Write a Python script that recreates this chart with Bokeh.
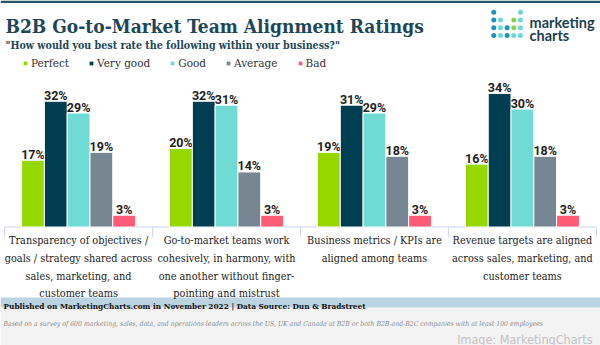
from bokeh.plotting import figure
from bokeh.models import ColumnDataSource, FactorRange, Range1d, Legend, LegendItem
from bokeh.core.properties import value
from bokeh.embed import file_html
from bokeh.resources import INLINE

# ---------------- data ----------------
categories = [
    "Transparency of objectives /\ngoals / strategy shared across\nsales, marketing, and\ncustomer teams",
    "Go-to-market teams work\ncohesively, in harmony, with\none another without finger-\npointing and mistrust",
    "Business metrics / KPIs are\naligned among teams",
    "Revenue targets are aligned\nacross sales, marketing, and\ncustomer teams",
]
series = ["Perfect", "Very good", "Good", "Average", "Bad"]
perfect = [17, 20, 19, 16]
very_good = [32, 32, 31, 34]
good = [29, 31, 29, 30]
average = [19, 14, 18, 18]
bad = [3, 3, 3, 3]
values_by_series = [perfect, very_good, good, average, bad]
colors = ["#97d700", "#003e51", "#6fdbd4", "#768692", "#ff5a76"]

title_text = "B2B Go-to-Market Team Alignment Ratings"
subtitle_text = '"How would you best rate the following within your business?"'
source_text = "Published on MarketingCharts.com in November 2022 | Data Source: Dun & Bradstreet"
note_text = ("Based on a survey of 600 marketing, sales, data, and operations leaders across the US, UK and "
             "Canada at B2B or both B2B-and-B2C companies with at least 100 employees")
credit_text = "Image: MarketingCharts"

# ---------------- layout constants ----------------
W, H = 600, 345
BASE_PX = 226.5      # baseline position from top (px)
PX_PER = 3.93        # px per percentage point
GP = 1.49            # gap between groups (bar units)
PAD = 0.925          # outer padding per side (bar units)

SERIF_NAME = "DejaVu Serif"
SERIF = value(SERIF_NAME)
SERIF_C = value("DejaVu Serif Condensed, DejaVu Serif")
SANS = value("Roboto")

n = len(categories)
k = len(series)
SYN_START = -PAD
SYN_SPAN = n * k + (n - 1) * GP + 2 * PAD


def X(px):
    """canvas px -> synthetic coordinate of the categorical x range"""
    if isinstance(px, list):
        return [X(v) for v in px]
    return SYN_START + px * SYN_SPAN / W


factors = [(c, s) for c in categories for s in series]
x_range = FactorRange(factors=factors, factor_padding=0, group_padding=GP,
                      range_padding=PAD, range_padding_units="absolute")
y_range = Range1d(start=-(H - BASE_PX) / PX_PER, end=BASE_PX / PX_PER)

p = figure(width=W, height=H, x_range=x_range, y_range=y_range,
           output_backend="svg", toolbar_location=None,
           x_axis_location=None, y_axis_location=None, min_border=0,
           outline_line_color=None, background_fill_color="white",
           border_fill_color="white")
p.title.visible = False
p.xgrid.visible = False
p.ygrid.visible = False
p.extra_y_ranges = {"px": Range1d(H, 0)}
PXR = dict(y_range_name="px")

# ---------------- backgrounds / frame decorations ----------------
p.quad(left=X([0]), right=X([W]), top=[0], bottom=[2.5], fill_color="#2a5566", line_color=None, **PXR)
p.quad(left=X([0]), right=X([W]), top=[307], bottom=[H], fill_color="#f3f3f3", line_color=None, **PXR)
p.quad(left=X([0]), right=X([W]), top=[297], bottom=[307], fill_color="#bcd4e1", line_color=None, **PXR)

# ---------------- header ----------------
p.text(x=X([5]), y=[25], text=[title_text], text_font=SERIF_C, text_font_style="bold",
       text_font_size="19px", text_color="#1d4757", text_baseline="alphabetic", **PXR)
p.text(x=X([5]), y=[44.5], text=[subtitle_text], text_font=SERIF_C, text_font_style="bold",
       text_font_size="10.6px", text_color="#1d4757", text_baseline="alphabetic", **PXR)

# logo dots
dot_pattern = [
    "B...T",
    "BT.GT",
    "BTBGT",
    "BTBTT",
]
dot_colors = {"B": "#1a94c1", "T": "#6fd8d6", "G": "#8fd14f"}
dx, dy, cy = [], [], []
for r, row in enumerate(dot_pattern):
    for c, ch in enumerate(row):
        if ch != ".":
            dx.append(493.3 + c * 6.67)
            dy.append(11.7 + r * 7.8)
            cy.append(dot_colors[ch])
p.scatter(x=X(dx), y=dy, size=5, fill_color=cy, line_color=None, **PXR)
p.text(x=X([529, 529]), y=[21.5, 35], text=["marketing", "charts"], text_font=value("Lato"),
       text_font_style="bold", text_font_size="14.5px", text_color="#1c3f4f",
       text_baseline="alphabetic", **PXR)

# ---------------- axis baseline and ticks ----------------
left_edge = -GP / 2
right_edge = n * k + (n - 1) * GP + GP / 2
p.segment(x0=[left_edge], x1=[right_edge], y0=[0], y1=[0], line_color="#ccd6eb", line_width=1)
tick_x = [left_edge + i * (k + GP) for i in range(n + 1)]
p.segment(x0=tick_x, x1=tick_x, y0=[0] * len(tick_x), y1=[-2.5] * len(tick_x),
          line_color="#ccd6eb", line_width=1)

# ---------------- bars ----------------
items = []
for name, vals, col in zip(series, values_by_series, colors):
    src = ColumnDataSource(dict(x=[(c, name) for c in categories], top=vals,
                                label=[f"{v}%" for v in vals]))
    r = p.vbar(x="x", top="top", bottom=0, width=1.0, source=src, fill_color=col,
               line_color="white", line_width=1)
    p.text(x="x", y="top", text="label", source=src, text_align="center",
           text_baseline="alphabetic", y_offset=-6, text_font=SANS, text_font_style="bold",
           text_font_size="12.5px", text_color="#222222")
    items.append(LegendItem(label=name, renderers=[r]))

# category labels
p.text(x=categories, y=[-1.8] * n, text=categories, text_align="center", text_baseline="top",
       text_font=SERIF_C, text_font_size="10.8px", text_color="#222222", text_line_height=1.37)

legend = Legend(items=items, orientation="horizontal", location=(22, H - 69),
                glyph_width=6, glyph_height=6, label_standoff=3, spacing=19, padding=0,
                margin=0, label_height=13, label_width=10, border_line_color=None,
                background_fill_alpha=0, label_text_font=SERIF_NAME, label_text_font_size="10.5px",
                label_text_color="#333333")
p.add_layout(legend)

# ---------------- footer ----------------
p.text(x=X([3]), y=[305], text=[source_text], text_font=SERIF_C, text_font_style="bold",
       text_font_size="8.2px", text_color="#111111", text_baseline="alphabetic", **PXR)
p.text(x=X([3]), y=[323], text=[note_text], text_font=SERIF_C, text_font_style="italic",
       text_font_size="6.85px", text_color="#8a8a8a", text_baseline="alphabetic", **PXR)
p.text(x=X([592]), y=[338.5], text=[credit_text], text_font=value("DejaVu Sans Condensed, Roboto"),
       text_font_size="12.5px", text_color="#c2c2c2", text_align="right",
       text_baseline="alphabetic", **PXR)

open("out.html", "w").write(file_html(p, INLINE))
